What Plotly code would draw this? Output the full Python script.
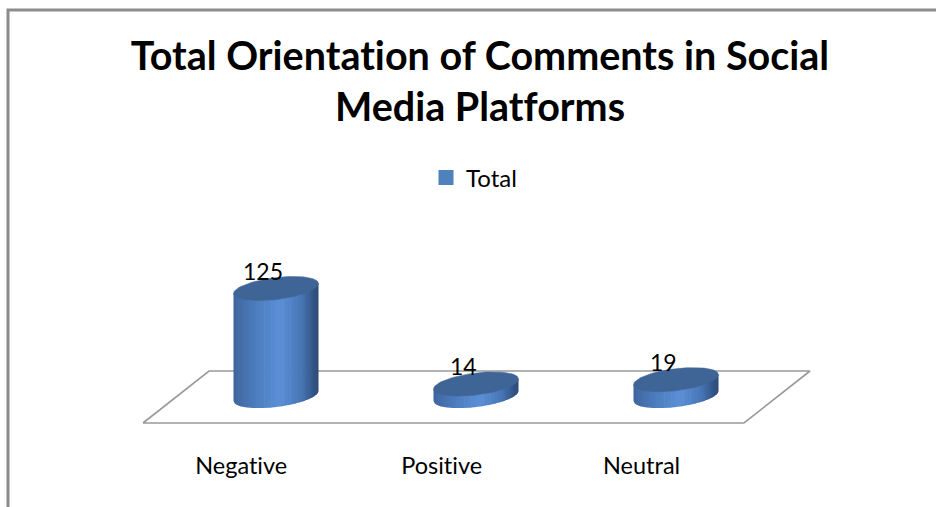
import numpy as np
import plotly.graph_objects as go

# ---------------- data ----------------
categories = ["Negative", "Positive", "Neutral"]
values = [125, 14, 19]
series_name = "Total"
title_lines = ["Total Orientation of Comments in Social", "Media Platforms"]

# ---------------- geometry / style ----------------
W, H = 936, 507
X0PX, XSTEP = 276, 200          # pixel of first category, pixels per category
BASEPX, PXPERUNIT = 396, 0.86   # pixel of value 0, pixels per value unit
FONT = "Lato"

xrange = [-X0PX / XSTEP, (W - X0PX) / XSTEP]
yrange = [(BASEPX - H) / PXPERUNIT, BASEPX / PXPERUNIT]

hw = 42.5 / XSTEP        # cylinder half width (x units)
ry = 11 / PXPERUNIT      # ellipse vertical half size (y units)
shear = 5 / PXPERUNIT    # tilt of ellipses (y units at the right end)

# side shading stops (t from -1 left to +1 right)
stops_t = [-1.0, -0.5, 0.1, 0.6, 1.0]
stops_c = np.array([[62, 102, 158], [76, 123, 188], [91, 144, 216],
                    [72, 118, 181], [42, 72, 116]])


def shade(t):
    return "rgb(%d,%d,%d)" % tuple(int(np.interp(t, stops_t, stops_c[:, j])) for j in range(3))


fig = go.Figure()

# floor (3D axis plane)
floor_front = [-0.665, 2.34]
floor_depth_x = 0.33
floor_front_y = (BASEPX - 423) / PXPERUNIT
floor_back_y = (BASEPX - 371) / PXPERUNIT
fx = [floor_front[0], floor_front[0] + floor_depth_x, floor_front[1] + floor_depth_x,
      floor_front[1], floor_front[0]]
fy = [floor_front_y, floor_back_y, floor_back_y, floor_front_y, floor_front_y]
fig.add_trace(go.Scatter(x=fx, y=fy, mode="lines", line=dict(color="#999999", width=1.6),
                         hoverinfo="skip", showlegend=False))

# cylinders
N = 36
edges = np.linspace(-1, 1, N + 1)
for i, v in enumerate(values):
    c = i
    for k in range(N):
        t0, t1 = edges[k], min(edges[k + 1] + 0.015, 1.0)
        ts = np.linspace(t0, t1, 5)
        xs = c + ts * hw
        bottom = shear * ts - ry * np.sqrt(np.clip(1 - ts ** 2, 0, 1))
        top = v + shear * ts
        px_ = list(xs) + list(xs[::-1])
        py_ = list(bottom) + list(top[::-1])
        col = shade((t0 + t1) / 2)
        fig.add_trace(go.Scatter(x=px_, y=py_, fill="toself", fillcolor=col, mode="lines",
                                 line=dict(width=0, color=col), hoverinfo="skip",
                                 showlegend=False))
    tt = np.linspace(0, 2 * np.pi, 90)
    ex = c + hw * np.cos(tt)
    ey = v + shear * np.cos(tt) + ry * np.sin(tt)
    fig.add_trace(go.Scatter(x=ex, y=ey, fill="toself", fillcolor="#3f6596", mode="lines",
                             line=dict(width=0.5, color="#3f6596"), hoverinfo="skip",
                             showlegend=False))

# legend entry
fig.add_trace(go.Scatter(x=[None], y=[None], name=series_name, mode="markers",
                         marker=dict(symbol="square", size=15, color="#4f81bd"),
                         showlegend=True))

# data labels
for i, v in enumerate(values):
    fig.add_annotation(x=i, y=v, text=str(v), showarrow=False, xshift=-13, yshift=18,
                       yanchor="middle", font=dict(family=FONT, size=23, color="#000000"))

# category labels
label_y = (BASEPX - 465) / PXPERUNIT
for i, name in enumerate(categories):
    fig.add_annotation(x=i, y=label_y, text=name, showarrow=False, xshift=-35,
                       yanchor="middle", font=dict(family=FONT, size=23.5, color="#000000"))

# chart border
fig.add_shape(type="rect", xref="paper", yref="paper", x0=8 / W, x1=1.05,
              y0=-0.05, y1=1 - 10 / H, line=dict(color="#8c8c8c", width=3),
              fillcolor="rgba(0,0,0,0)", layer="below")

fig.update_layout(
    width=W, height=H,
    margin=dict(l=0, r=0, t=0, b=0),
    paper_bgcolor="white", plot_bgcolor="white",
    title=dict(text="<br>".join(title_lines), x=480 / W, xanchor="center",
               y=1 - 70 / H, yanchor="top", yref="container",
               font=dict(family=FONT, size=39.5, color="#000000", weight="bold")),
    xaxis=dict(range=xrange, visible=False, fixedrange=True),
    yaxis=dict(range=yrange, visible=False, fixedrange=True),
    legend=dict(x=(466 - 40) / W, y=1 - 178 / H, xanchor="left", yanchor="middle",
                orientation="h", bgcolor="rgba(0,0,0,0)",
                font=dict(family=FONT, size=24, color="#000000")),
    showlegend=True,
)

no_liga = (
    "var s=document.createElement('style');"
    "s.textContent='text, tspan {font-variant-ligatures: none !important;"
    " font-feature-settings: \"liga\" 0, \"clig\" 0 !important;}';"
    "document.head.appendChild(s);"
)
fig.write_html("out.html", post_script=no_liga)
